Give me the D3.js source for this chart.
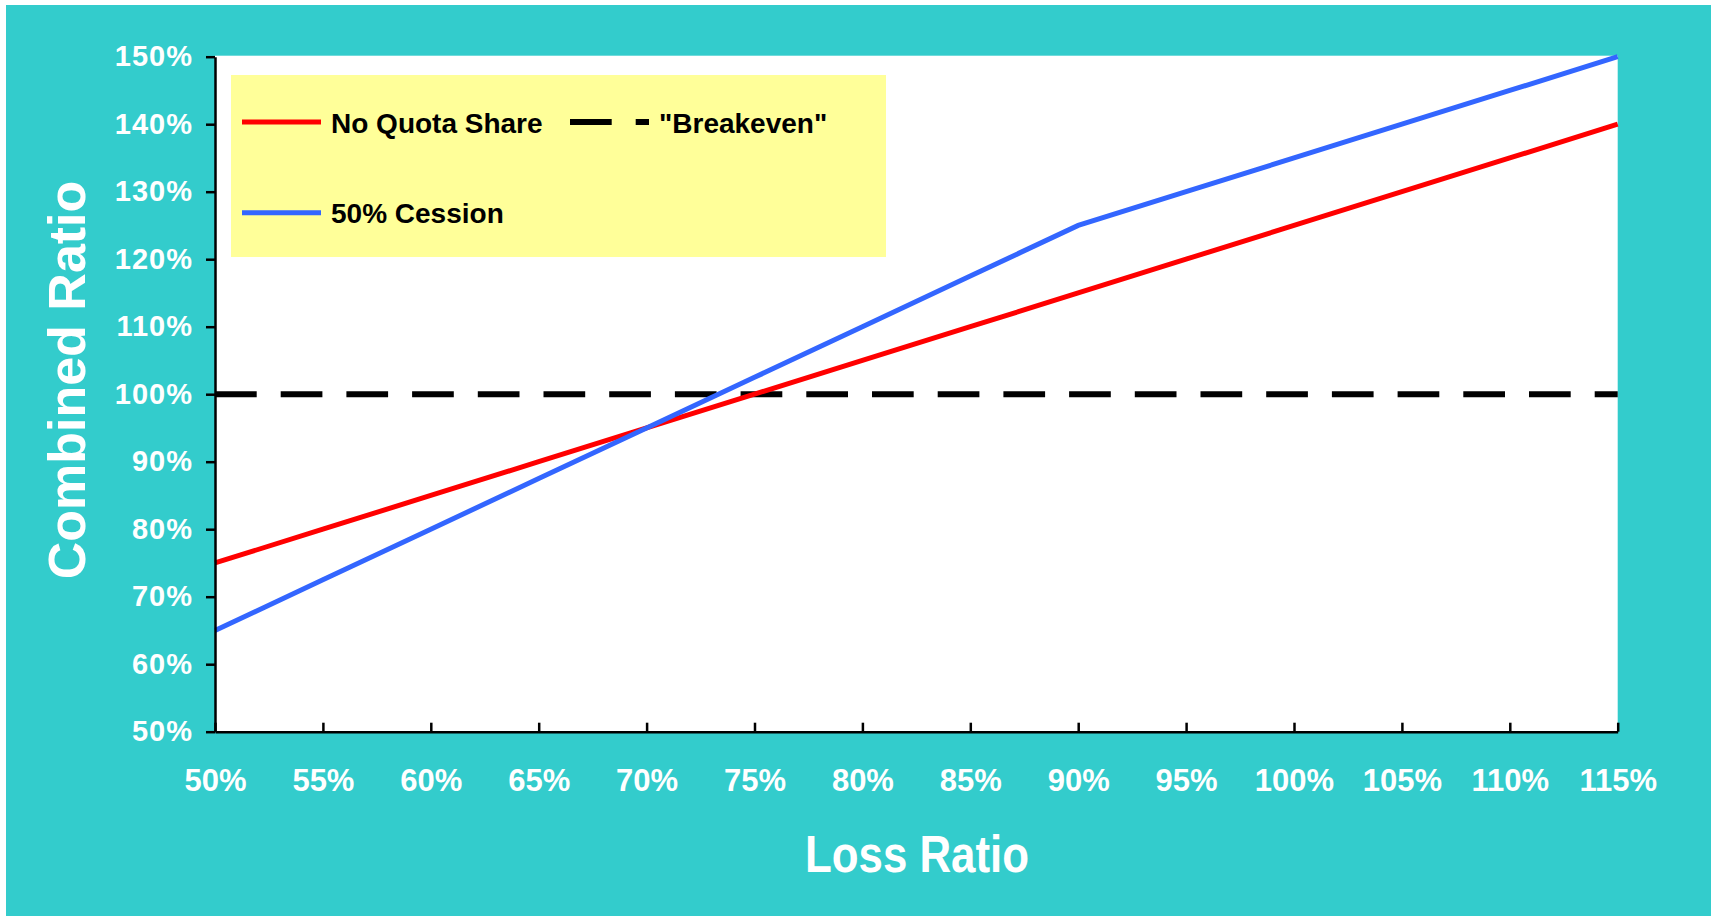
<!DOCTYPE html>
<meta charset="utf-8">
<style>
    body { margin: 0; background: #fff; }
    svg { display: block; font-family: "Liberation Sans", Arial, sans-serif; font-weight: bold; }
    .axis path, .axis line { stroke: #000; stroke-width: 2.5; }
    .axis text { fill: #fff; }
</style>
<svg width="1711" height="916"></svg>
<script src="https://d3js.org/d3.v7.min.js"></script>
<script>

    // loss ratio (x) in percent
    var lossRatio = [50, 55, 60, 65, 70, 75, 80, 85, 90, 95, 100, 105, 110, 115];
    // combined ratio series
    var noQuotaShare = [75, 80, 85, 90, 95, 100, 105, 110, 115, 120, 125, 130, 135, 140];
    var cession50 = [65, 72.5, 80, 87.5, 95, 102.5, 110, 117.5, 125, 130, 135, 140, 145, 150];
    var breakeven = [100, 100, 100, 100, 100, 100, 100, 100, 100, 100, 100, 100, 100, 100];
    var yTicks = [50, 60, 70, 80, 90, 100, 110, 120, 130, 140, 150];

    var svg = d3.select("svg");

    var plot = { left: 215, right: 1617.7, top: 56.7, bottom: 731.7 };

    // teal backdrop
    svg.append("rect")
        .attr("x", 6).attr("y", 5)
        .attr("width", 1711 - 6).attr("height", 916 - 5)
        .attr("fill", "#33CCCC");

    svg.append("rect")
        .attr("x", plot.left).attr("y", plot.top - 1)
        .attr("width", plot.right - plot.left).attr("height", plot.bottom - plot.top + 1)
        .attr("fill", "#fff");

    var x = d3.scaleLinear().domain([50, 115]).range([plot.left, plot.right]);
    var y = d3.scaleLinear().domain([50, 150]).range([plot.bottom, plot.top]);

    // legend box
    svg.append("rect")
        .attr("x", 231).attr("y", 75)
        .attr("width", 886 - 231).attr("height", 257 - 75)
        .attr("fill", "#FFFF99");

    function series(vals) {
        return vals.map(function (v, i) { return [lossRatio[i], v]; });
    }

    var line = d3.line()
        .x(function (d) { return x(d[0]); })
        .y(function (d) { return y(d[1]); });

    svg.append("path")
        .datum(series(breakeven))
        .attr("d", line)
        .attr("fill", "none")
        .attr("stroke", "#000")
        .attr("stroke-width", 6)
        .attr("stroke-dasharray", "41.7,24");

    svg.append("path")
        .datum(series(noQuotaShare))
        .attr("d", line)
        .attr("fill", "none")
        .attr("stroke", "#FF0000")
        .attr("stroke-width", 5);

    svg.append("path")
        .datum(series(cession50))
        .attr("d", line)
        .attr("fill", "none")
        .attr("stroke", "#3366FF")
        .attr("stroke-width", 5);

    // axes
    var yAxis = d3.axisLeft(y)
        .tickValues(yTicks)
        .tickSizeInner(9)
        .tickSizeOuter(0)
        .tickPadding(13)
        .tickFormat(function (d) { return d + "%"; });

    var gy = svg.append("g")
        .attr("class", "axis")
        .attr("transform", "translate(" + plot.left + ",0)")
        .call(yAxis);
    gy.selectAll("text")
        .attr("font-size", "29px")
        .attr("font-weight", "bold")
        .attr("font-family", "'Liberation Sans', Arial, sans-serif")
        .style("letter-spacing", "1px");

    var xAxis = d3.axisBottom(x)
        .tickValues(lossRatio)
        .tickSizeInner(-9)
        .tickSizeOuter(0)
        .tickPadding(37)
        .tickFormat(function (d) { return d + "%"; });

    var gx = svg.append("g")
        .attr("class", "axis")
        .attr("transform", "translate(0," + plot.bottom + ")")
        .call(xAxis);
    gx.selectAll("text")
        .attr("font-size", "31px")
        .attr("font-weight", "bold")
        .attr("font-family", "'Liberation Sans', Arial, sans-serif");

    // axis titles
    svg.append("text")
        .attr("transform", "translate(85,380) rotate(-90)")
        .attr("text-anchor", "middle")
        .attr("font-size", "52px")
        .attr("fill", "#fff")
        .text("Combined Ratio");

    svg.append("text")
        .attr("x", 917)
        .attr("y", 872)
        .attr("text-anchor", "middle")
        .attr("font-size", "52px")
        .attr("fill", "#fff")
        .attr("textLength", 224)
        .attr("lengthAdjust", "spacingAndGlyphs")
        .text("Loss Ratio");

    // legend entries
    var legend = [
        { name: "No Quota Share", color: "#FF0000", dash: null, lx: 242, ly: 122 },
        { name: "\"Breakeven\"", color: "#000", dash: "41.7,24", lx: 570, ly: 122 },
        { name: "50% Cession", color: "#3366FF", dash: null, lx: 242, ly: 212.7 }
    ];

    var lg = svg.selectAll(".leg")
        .data(legend)
        .enter().append("g")
        .attr("class", "leg");

    lg.append("line")
        .attr("x1", function (d) { return d.lx; })
        .attr("x2", function (d) { return d.lx + 79; })
        .attr("y1", function (d) { return d.ly; })
        .attr("y2", function (d) { return d.ly; })
        .attr("stroke", function (d) { return d.color; })
        .attr("stroke-width", function (d) { return d.dash ? 6 : 5; })
        .attr("stroke-dasharray", function (d) { return d.dash; });

    lg.append("text")
        .attr("x", function (d) { return d.lx + 89; })
        .attr("y", function (d) { return d.ly + 10.5; })
        .attr("font-size", "28px")
        .attr("fill", "#000")
        .text(function (d) { return d.name; });

</script>
